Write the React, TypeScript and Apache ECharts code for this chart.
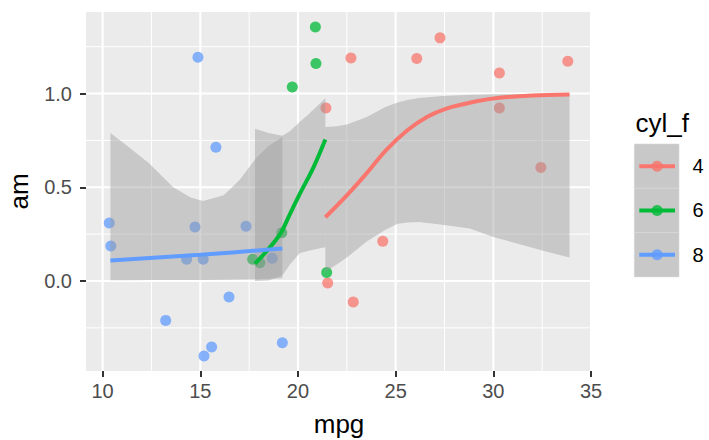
import React, { useEffect, useRef } from "react";
import * as echarts from "echarts";

const FONT = "'Liberation Sans', Arial, Helvetica, sans-serif";

const cylLevels = ["4", "6", "8"];
const cylColors = ["#F8766D", "#00BA38", "#619CFF"];

// jittered points (mpg, am)
const mpg4 = [22.71, 26.08, 27.27, 30.31, 33.81, 21.43, 30.31, 32.43, 24.34, 21.52, 22.83];
const am4 = [1.19, 1.187, 1.297, 1.11, 1.172, 0.923, 0.923, 0.605, 0.212, -0.011, -0.112];
const mpg6 = [20.89, 20.92, 19.71, 19.17, 17.68, 18.05, 21.47];
const am6 = [1.355, 1.16, 1.035, 0.258, 0.116, 0.098, 0.045];
const mpg8 = [14.88, 15.8, 10.34, 10.42, 14.73, 17.34, 14.3, 15.15, 18.68, 16.47, 13.23, 15.58, 15.19, 19.2];
const am8 = [1.194, 0.713, 0.309, 0.187, 0.288, 0.292, 0.116, 0.116, 0.121, -0.085, -0.21, -0.352, -0.4, -0.329];

// logistic smooth fits
const fit4X = [21.4, 22.5, 23.5, 24.5, 25.6, 26.6, 27.6, 29.2, 30.3, 32.0, 33.9];
const fit4Y = [0.34, 0.457, 0.573, 0.697, 0.804, 0.875, 0.92, 0.96, 0.978, 0.99, 0.995];
const fit6X = [17.8, 18.4, 19.1, 19.6, 20.1, 20.8, 21.4];
const fit6Y = [0.093, 0.16, 0.253, 0.36, 0.466, 0.608, 0.755];
const fit8X = [10.4, 15.0, 19.2];
const fit8Y = [0.11, 0.14, 0.173];

// confidence bands
const band4X = [21.4, 22.0, 22.5, 23.5, 24.5, 25.1, 25.6, 26.2, 27.4, 28.8, 30.0, 31.4, 32.6, 33.9];
const band4Lo = [0.05, 0.09, 0.125, 0.21, 0.275, 0.305, 0.312, 0.315, 0.3, 0.28, 0.235, 0.195, 0.16, 0.125];
const band4Hi = [0.822, 0.825, 0.835, 0.874, 0.93, 0.952, 0.965, 0.976, 0.987, 0.993, 0.996, 0.997, 0.998, 0.998];
const band6X = [17.8, 18.5, 19.2, 19.6, 20.1, 20.5, 21.0, 21.4];
const band6Lo = [0.0, 0.003, 0.03, 0.09, 0.15, 0.16, 0.172, 0.18];
const band6Hi = [0.812, 0.79, 0.775, 0.8, 0.85, 0.885, 0.935, 0.975];
const band8X = [10.4, 11.4, 12.4, 13.6, 14.5, 15.15, 16.2, 17.0, 17.9, 18.5, 19.2];
const band8Lo = [0.004, 0.004, 0.005, 0.005, 0.006, 0.006, 0.007, 0.008, 0.01, 0.012, 0.015];
const band8Hi = [0.79, 0.71, 0.626, 0.502, 0.445, 0.427, 0.457, 0.537, 0.662, 0.72, 0.768];

// axes
const xTicks = [10, 15, 20, 25, 30, 35];
const xMinor = [12.5, 17.5, 22.5, 27.5, 32.5];
const yTicks = [0, 0.5, 1.0];
const yMinor = [-0.25, 0.25, 0.75, 1.25];
const X_MIN = 9.15;
const X_MAX = 35.05;
const Y_MIN = -0.48;
const Y_MAX = 1.435;

const pointsBy = [
  [mpg4, am4],
  [mpg6, am6],
  [mpg8, am8],
];
const fitsBy = [
  [fit4X, fit4Y],
  [fit6X, fit6Y],
  [fit8X, fit8Y],
];
const bandsBy = [
  [band4X, band4Lo, band4Hi],
  [band6X, band6Lo, band6Hi],
  [band8X, band8Lo, band8Hi],
];

export default function App() {
  const ref = useRef<HTMLDivElement>(null);

  useEffect(() => {
    if (!ref.current) return;
    const chart = echarts.init(ref.current, null, { renderer: "svg" });

    const gridLines: number[][] = [];
    xTicks.forEach((v) => gridLines.push([0, v, 2.1]));
    xMinor.forEach((v) => gridLines.push([0, v, 1.0]));
    yTicks.forEach((v) => gridLines.push([1, v, 2.1]));
    yMinor.forEach((v) => gridLines.push([1, v, 1.0]));

    const series: any[] = [];

    series.push({
      type: "custom",
      z: 1,
      silent: true,
      data: gridLines,
      encode: { x: 1, y: 1 },
      renderItem: (params: any, api: any) => {
        const dir = api.value(0);
        const v = api.value(1);
        const w = api.value(2);
        let p1, p2;
        if (dir === 0) {
          p1 = api.coord([v, Y_MIN]);
          p2 = api.coord([v, Y_MAX]);
        } else {
          p1 = api.coord([X_MIN, v]);
          p2 = api.coord([X_MAX, v]);
        }
        return {
          type: "line",
          shape: { x1: p1[0], y1: p1[1], x2: p2[0], y2: p2[1] },
          style: { stroke: "#FFFFFF", lineWidth: w },
        };
      },
    });

    cylLevels.forEach((lvl, i) => {
      const [xs, ys] = pointsBy[i];
      series.push({
        type: "scatter",
        name: lvl,
        z: 2,
        symbol: "circle",
        symbolSize: 11,
        itemStyle: { color: cylColors[i], opacity: 0.75 },
        data: xs.map((x, k) => [x, ys[k]]),
      });
    });

    cylLevels.forEach((lvl, i) => {
      const [bx, lo, hi] = bandsBy[i];
      series.push({
        type: "custom",
        z: 3,
        silent: true,
        data: [[bx[0], lo[0]]],
        encode: { x: 0, y: 1 },
        renderItem: (params: any, api: any) => {
          const pts: number[][] = [];
          for (let k = 0; k < bx.length; k++) pts.push(api.coord([bx[k], hi[k]]));
          for (let k = bx.length - 1; k >= 0; k--) pts.push(api.coord([bx[k], lo[k]]));
          return {
            type: "polygon",
            shape: { points: pts },
            style: { fill: "rgba(153,153,153,0.43)", stroke: "none" },
          };
        },
      });
    });

    cylLevels.forEach((lvl, i) => {
      const [fx, fy] = fitsBy[i];
      series.push({
        type: "line",
        z: 4,
        silent: true,
        smooth: 0.35,
        showSymbol: false,
        symbol: "none",
        lineStyle: { color: cylColors[i], width: 4, cap: "butt" },
        data: fx.map((x, k) => [x, fy[k]]),
      });
    });

    const legendGraphics: any[] = [];
    const keyX = 634.3;
    const keyW = 44.7;
    const keyTop = 144;
    const keyH = 44.3;
    legendGraphics.push({
      type: "text",
      x: 635.5,
      y: 123,
      style: {
        text: "cyl_f",
        font: `26px ${FONT}`,
        fill: "#000000",
        textAlign: "left",
        textVerticalAlign: "middle",
      },
    });
    cylLevels.forEach((lvl, i) => {
      const cy = keyTop + keyH * i + keyH / 2;
      legendGraphics.push({
        type: "rect",
        shape: { x: keyX, y: keyTop + keyH * i, width: keyW, height: keyH },
        style: { fill: "#C8C8C8", stroke: "#D6D6D6", lineWidth: 0.6 },
      });
      legendGraphics.push({
        type: "line",
        shape: { x1: keyX + 5, y1: cy, x2: keyX + keyW - 4, y2: cy },
        style: { stroke: cylColors[i], lineWidth: 4 },
      });
      legendGraphics.push({
        type: "circle",
        shape: { cx: keyX + keyW / 2 + 0.5, cy: cy, r: 5.5 },
        style: { fill: cylColors[i], opacity: 0.8 },
      });
      legendGraphics.push({
        type: "text",
        x: 692.5,
        y: cy,
        style: {
          text: lvl,
          font: `20px ${FONT}`,
          fill: "#000000",
          textAlign: "left",
          textVerticalAlign: "middle",
        },
      });
    });

    legendGraphics.push({
      type: "text",
      x: 339,
      y: 424,
      style: {
        text: "mpg",
        font: `26px ${FONT}`,
        fill: "#000000",
        textAlign: "center",
        textVerticalAlign: "middle",
      },
    });
    legendGraphics.push({
      type: "text",
      x: 19,
      y: 191.5,
      rotation: Math.PI / 2,
      style: {
        text: "am",
        font: `26px ${FONT}`,
        fill: "#000000",
        textAlign: "center",
        textVerticalAlign: "middle",
      },
    });

    chart.setOption({
      animation: false,
      backgroundColor: "#FFFFFF",
      grid: {
        left: 86,
        top: 12,
        width: 506,
        height: 359,
        show: true,
        backgroundColor: "#EBEBEB",
        borderWidth: 0,
        containLabel: false,
      },
      xAxis: {
        type: "value",
        min: X_MIN,
        max: X_MAX,
        axisLine: { show: false, onZero: false },
        axisTick: {
          show: true,
          customValues: xTicks,
          length: 6,
          lineStyle: { color: "#333333", width: 2 },
        },
        axisLabel: {
          customValues: xTicks,
          color: "#4D4D4D",
          fontSize: 20,
          fontFamily: FONT,
          margin: 10,
        },
        splitLine: { show: false },
      },
      yAxis: {
        type: "value",
        min: Y_MIN,
        max: Y_MAX,
        axisLine: { show: false, onZero: false },
        axisTick: {
          show: true,
          customValues: yTicks,
          length: 6,
          lineStyle: { color: "#333333", width: 2 },
        },
        axisLabel: {
          customValues: yTicks,
          color: "#4D4D4D",
          fontSize: 20,
          fontFamily: FONT,
          margin: 14,
          formatter: (v: number) => v.toFixed(1),
        },
        splitLine: { show: false },
      },
      graphic: legendGraphics,
      series,
    });

    return () => chart.dispose();
  }, []);

  return <div ref={ref} style={{ width: 709, height: 440, position: "absolute", left: 0, top: 0 }} />;
}
